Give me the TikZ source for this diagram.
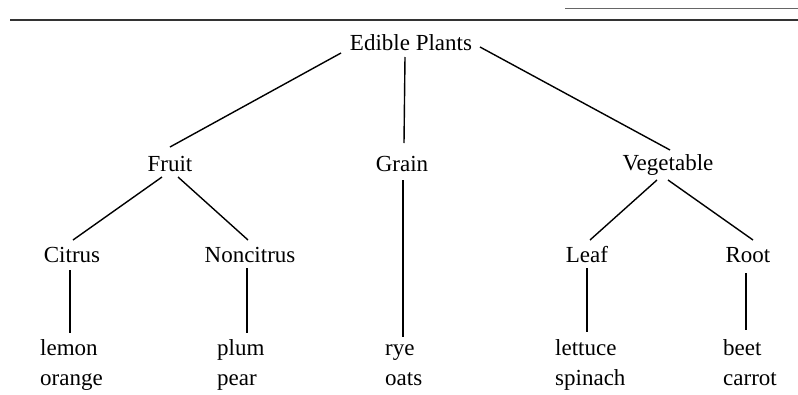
\documentclass[tikz,border=0pt]{standalone}
\usepackage{fontspec}
\setmainfont{Liberation Serif}
\begin{document}
\begin{tikzpicture}[x=1pt,y=-1pt,
  lbl/.style={inner sep=0pt,anchor=base,font=\fontsize{23}{27}\selectfont},
  leaflbl/.style={inner sep=0pt,anchor=base west,font=\fontsize{23}{27}\selectfont},
  edge/.style={line width=1.4pt,black},
  rule/.style={line width=2pt,black!80}]
\useasboundingbox (0,0) rectangle (798,394);
% top rules
\coordinate (rl) at (10,20);
\coordinate (rr) at (798,20);
\coordinate (tl) at (565,8);
\coordinate (tr) at (798,8);
\draw[rule] (rl) -- (rr);
\draw[line width=0.8pt,black!60] (tl) -- (tr);
% nodes
\node[lbl] (ep) at (411,50) {Edible Plants};
\node[lbl] (fruit) at (170,171) {Fruit};
\node[lbl] (grain) at (402,171) {Grain};
\node[lbl] (veg) at (668,170) {Vegetable};
\node[lbl] (citrus) at (72,262) {Citrus};
\node[lbl] (noncit) at (250,262) {Noncitrus};
\node[lbl] (leaf) at (587,262) {Leaf};
\node[lbl] (root) at (748,262) {Root};
\node[leaflbl] (lemon) at (40,355) {lemon};
\node[leaflbl] (orange) at (40,385) {orange};
\node[leaflbl] (plum) at (217,355) {plum};
\node[leaflbl] (pear) at (217,385) {pear};
\node[leaflbl] (rye) at (385,355) {rye};
\node[leaflbl] (oats) at (385,385) {oats};
\node[leaflbl] (lettuce) at (555,355) {lettuce};
\node[leaflbl] (spinach) at (555,385) {spinach};
\node[leaflbl] (beet) at (723,355) {beet};
\node[leaflbl] (carrot) at (723,385) {carrot};
% attachment points
\coordinate (ep-l) at (341,53);
\coordinate (ep-m) at (405,57);
\coordinate (ep-r) at (480,47);
\coordinate (fruit-t) at (170,147);
\coordinate (grain-t) at (404,143);
\coordinate (veg-t) at (670,150);
\coordinate (fruit-l) at (162,177);
\coordinate (fruit-r) at (178,177);
\coordinate (grain-b) at (403,180);
\coordinate (veg-l) at (657,180);
\coordinate (veg-r) at (668,180);
\coordinate (citrus-t) at (73,240);
\coordinate (noncit-t) at (248,240);
\coordinate (leaf-t) at (590,240);
\coordinate (root-t) at (753,240);
\coordinate (citrus-b) at (70,270);
\coordinate (noncit-b) at (247,268);
\coordinate (leaf-b) at (587,268);
\coordinate (root-b) at (746,273);
\coordinate (lemon-t) at (70,333);
\coordinate (plum-t) at (247,333);
\coordinate (rye-t) at (403,337);
\coordinate (lettuce-t) at (587,332);
\coordinate (beet-t) at (746,330);
% connectors
\draw[edge] (ep-l) -- (fruit-t);
\draw[edge] (ep-m) -- (grain-t);
\draw[edge] (ep-r) -- (veg-t);
\draw[edge] (fruit-l) -- (citrus-t);
\draw[edge] (fruit-r) -- (noncit-t);
\draw[edge] (grain-b) -- (rye-t);
\draw[edge] (veg-l) -- (leaf-t);
\draw[edge] (veg-r) -- (root-t);
\draw[edge] (citrus-b) -- (lemon-t);
\draw[edge] (noncit-b) -- (plum-t);
\draw[edge] (leaf-b) -- (lettuce-t);
\draw[edge] (root-b) -- (beet-t);
\end{tikzpicture}
\end{document}
